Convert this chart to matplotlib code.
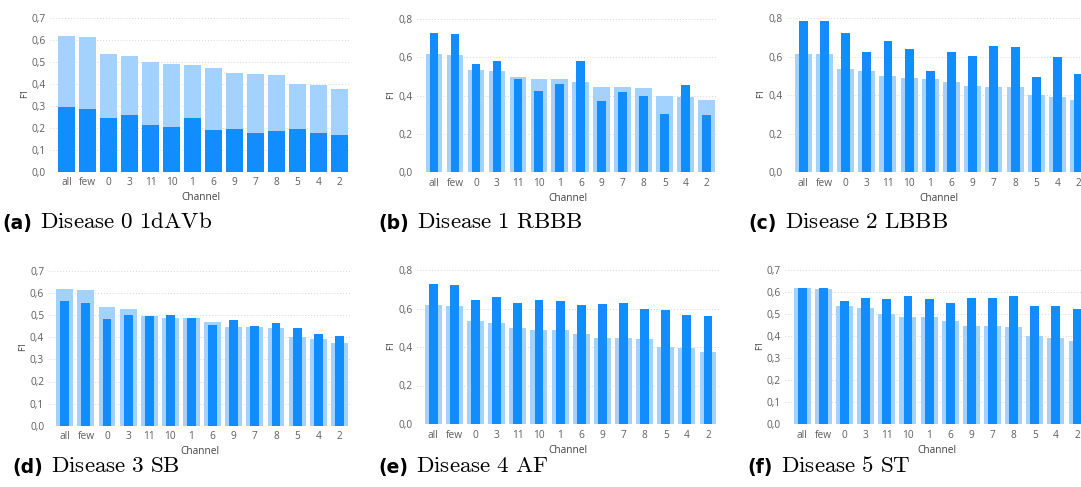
"""Per-channel F1 comparison, six diseases (Power BI style bars)."""

import matplotlib
matplotlib.use("Agg")
import matplotlib.pyplot as plt
import numpy as np

channels = ["all", "few", "0", "3", "11", "10", "1", "6", "9", "7", "8", "5", "4", "2"]

# light bars: same reference series in every panel
reference = [0.617, 0.614, 0.535, 0.527, 0.498, 0.488, 0.486, 0.470, 0.447, 0.445, 0.441, 0.400, 0.393, 0.376]

d0_1davb = [0.295, 0.285, 0.242, 0.256, 0.212, 0.202, 0.245, 0.191, 0.192, 0.176, 0.183, 0.194, 0.174, 0.167]
d1_rbbb = [0.725, 0.720, 0.565, 0.579, 0.489, 0.426, 0.461, 0.581, 0.374, 0.421, 0.400, 0.306, 0.454, 0.297]
d2_lbbb = [0.788, 0.784, 0.722, 0.625, 0.682, 0.641, 0.526, 0.625, 0.604, 0.655, 0.649, 0.494, 0.599, 0.509]
d3_sb = [0.563, 0.557, 0.483, 0.501, 0.498, 0.499, 0.487, 0.456, 0.478, 0.453, 0.465, 0.440, 0.415, 0.406]
d4_af = [0.726, 0.720, 0.646, 0.658, 0.627, 0.646, 0.637, 0.616, 0.622, 0.629, 0.596, 0.590, 0.565, 0.563]
d5_st = [0.618, 0.620, 0.558, 0.574, 0.568, 0.583, 0.567, 0.550, 0.573, 0.571, 0.582, 0.536, 0.535, 0.521]

DARK = "#118DFF"
LIGHT = "#A3D2FF"
TICK = "#605E5C"

W, H = 1081, 487
fig = plt.figure(figsize=(W / 100, H / 100), dpi=100)

# (label, title, values, top tick, tick step, full width?, layout in px:
#  grid left, first bar centre, bar spacing, y of zero, y of top tick, caption x, caption baseline)
panels = [
    ("(a)", "Disease 0 1dAVb", d0_1davb, 0.7, 0.1, True, (50, 66.7, 20.97, 171.7, 17.7, 2, 229)),
    ("(b)", "Disease 1 RBBB", d1_rbbb, 0.8, 0.2, False, (416.7, 434.0, 20.98, 172.3, 19.0, 378, 229)),
    ("(c)", "Disease 2 LBBB", d2_lbbb, 0.8, 0.2, False, (786.7, 803.2, 21.19, 172.3, 18.3, 748, 229)),
    ("(d)", "Disease 3 SB", d3_sb, 0.7, 0.1, False, (48.3, 64.8, 21.12, 425.7, 271.0, 12, 473)),
    ("(e)", "Disease 4 AF", d4_af, 0.8, 0.2, False, (416.7, 433.3, 21.13, 424.0, 270.0, 378, 473)),
    ("(f)", "Disease 5 ST", d5_st, 0.7, 0.1, False, (785.0, 802.3, 21.13, 424.0, 270.0, 747, 473)),
]

x = np.arange(len(channels))

for label, title, vals, ytop, ystep, full, lay in panels:
    gl, c0, sp, y0, yt, cx, cy = lay
    xl, xr = (gl - c0) / sp, 13.56
    ppu = (y0 - yt) / ytop
    ymax = ytop + 4 / ppu
    left = c0 + xl * sp
    width = (xr - xl) * sp
    ax = fig.add_axes([left / W, (H - y0) / H, width / W, ymax * ppu / H])

    ax.bar(x, reference, width=0.8, color=LIGHT, zorder=2)
    ax.bar(x, vals, width=0.8 if full else 0.42, color=DARK, zorder=3)

    ax.set_xlim(xl, xr)
    ax.set_ylim(0, ymax)
    ticks = np.arange(0, ytop + 1e-9, ystep)
    ax.set_yticks(ticks)
    ax.set_yticklabels([f"{t:.1f}".replace(".", ",") for t in ticks])
    ax.set_xticks(x)
    ax.set_xticklabels(channels)
    ax.tick_params(length=0, labelsize=7.3, labelcolor=TICK, pad=3)
    ax.tick_params(axis="x", pad=4)
    for lbl in ax.get_xticklabels() + ax.get_yticklabels():
        lbl.set_family("Open Sans")
    ax.grid(axis="y", linestyle=(0, (1, 2)), color="#D6D6D6", linewidth=0.7, zorder=0)
    for s in ax.spines.values():
        s.set_visible(False)
    ax.set_xlabel("Channel", family="Open Sans", fontsize=7.3, color="#404040", labelpad=3)
    ax.set_ylabel("F1", family="Open Sans", fontsize=6.5, color="#404040", labelpad=2)

    # caption: bold sans label followed by a Computer Modern title
    t = fig.text(cx / W, 1 - cy / H, label, family="DejaVu Sans", weight="bold",
                 fontsize=13.5, color="black", va="baseline")
    ax.annotate(r"$\mathrm{" + title.replace(" ", r"\ ") + "}$", xy=(1, 0), xycoords=t,
                xytext=(6, 0), textcoords="offset points", fontsize=16.6,
                math_fontfamily="cm", va="bottom", ha="left", annotation_clip=False)

fig.savefig("out.png", dpi=100)
